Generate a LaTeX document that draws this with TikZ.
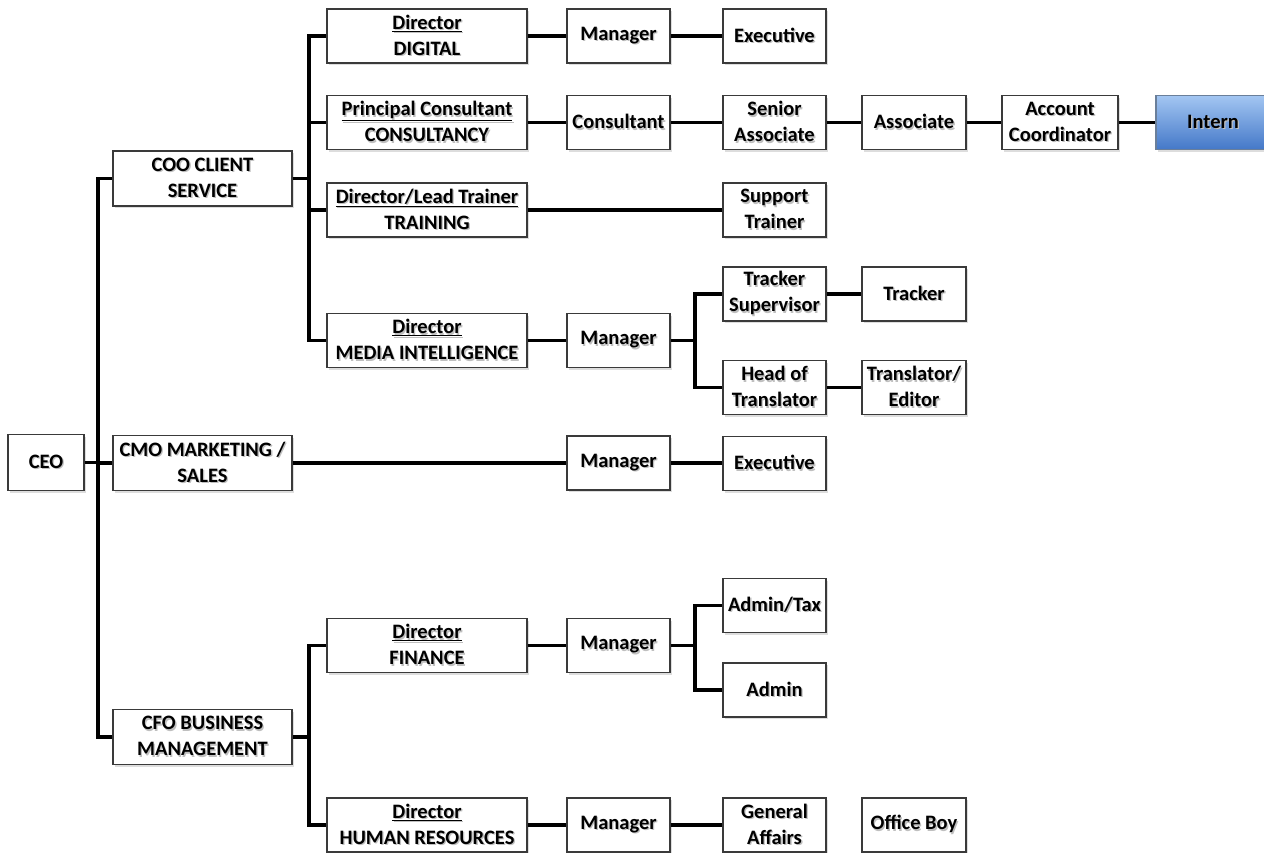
\documentclass[tikz,border=0pt]{standalone}
\usepackage{fontspec}
\setmainfont{Carlito}
\usetikzlibrary{shadows}
\definecolor{boxline}{HTML}{3A3A3A}
\definecolor{interntop}{HTML}{A3C6F2}
\definecolor{internbot}{HTML}{4478C8}
\definecolor{internline}{HTML}{6A7F9A}
\newcommand{\txs}[1]{\leavevmode\rlap{\hspace{1.3pt}\raisebox{-1.5pt}{\color{black!25}#1}}#1}
\tikzset{
  orgbox/.style={draw=boxline, line width=1.1pt, fill=white, inner sep=0pt,
    align=center, font=\bfseries\fontsize{20.5}{26}\selectfont,
    drop shadow={shadow xshift=1.5pt, shadow yshift=-2pt, fill=black!22, opacity=0.6}},
  link/.style={line width=3.4pt, black}
}
\begin{document}
\begin{tikzpicture}[x=1pt,y=-1pt]
\useasboundingbox (0,0) rectangle (1264,852);
\fill[white] (0,0) rectangle (1264,852);
% level 0/1
\node[orgbox, minimum width=76pt, minimum height=56pt] (ceo) at (46,462.5) {\txs{CEO}};
\node[orgbox, minimum width=179pt, minimum height=55pt] (coo) at (202.5,178.5) {\txs{COO CLIENT}\\\txs{SERVICE}};
\node[orgbox, minimum width=179pt, minimum height=55pt] (cmo) at (202.5,463) {\txs{CMO MARKETING /}\\\txs{SALES}};
\node[orgbox, minimum width=179pt, minimum height=55pt] (cfo) at (202.5,737) {\txs{CFO BUSINESS}\\\txs{MANAGEMENT}};
% directors
\node[orgbox, minimum width=200pt, minimum height=54pt] (dig) at (427,36) {\txs{\underline{Director}}\\\txs{DIGITAL}};
\node[orgbox, minimum width=200pt, minimum height=54pt] (pc) at (427,122.5) {\txs{\underline{Principal Consultant}}\\\txs{CONSULTANCY}};
\node[orgbox, minimum width=200pt, minimum height=54pt] (dlt) at (427,210) {\txs{\underline{Director/Lead Trainer}}\\\txs{TRAINING}};
\node[orgbox, minimum width=200pt, minimum height=54pt] (dmi) at (427,340.5) {\txs{\underline{Director}}\\\txs{MEDIA INTELLIGENCE}};
\node[orgbox, minimum width=200pt, minimum height=54pt] (dfin) at (427,645.5) {\txs{\underline{Director}}\\\txs{FINANCE}};
\node[orgbox, minimum width=200pt, minimum height=54pt] (dhr) at (427,825) {\txs{\underline{Director}}\\\txs{HUMAN RESOURCES}};
% managers column
\node[orgbox, minimum width=103pt, minimum height=54pt] (mgrdig) at (618.5,36) {\txs{Manager}};
\node[orgbox, minimum width=103pt, minimum height=54pt] (cons) at (618.5,122.5) {\txs{Consultant}};
\node[orgbox, minimum width=103pt, minimum height=54pt] (mgrmi) at (618.5,340.5) {\txs{Manager}};
\node[orgbox, minimum width=103pt, minimum height=54pt] (mgrcmo) at (618.5,463) {\txs{Manager}};
\node[orgbox, minimum width=103pt, minimum height=54pt] (mgrfin) at (618.5,645.5) {\txs{Manager}};
\node[orgbox, minimum width=103pt, minimum height=54pt] (mgrhr) at (618.5,825) {\txs{Manager}};
% third column
\node[orgbox, minimum width=103pt, minimum height=54pt] (exdig) at (774.5,36) {\txs{Executive}};
\node[orgbox, minimum width=103pt, minimum height=54pt] (sa) at (774.5,122.5) {\txs{Senior}\\\txs{Associate}};
\node[orgbox, minimum width=103pt, minimum height=54pt] (st) at (774.5,210) {\txs{Support}\\\txs{Trainer}};
\node[orgbox, minimum width=103pt, minimum height=54pt] (ts) at (774.5,294) {\txs{Tracker}\\\txs{Supervisor}};
\node[orgbox, minimum width=103pt, minimum height=54pt] (ht) at (774.5,387.5) {\txs{Head of}\\\txs{Translator}};
\node[orgbox, minimum width=103pt, minimum height=54pt] (excmo) at (774.5,463.5) {\txs{Executive}};
\node[orgbox, minimum width=103pt, minimum height=54pt] (admtax) at (774.5,605.5) {\txs{Admin/Tax}};
\node[orgbox, minimum width=103pt, minimum height=54pt] (adm) at (774.5,690) {\txs{Admin}};
\node[orgbox, minimum width=103pt, minimum height=54pt] (ga) at (774.5,825) {\txs{General}\\\txs{Affairs}};
% fourth column
\node[orgbox, minimum width=104pt, minimum height=54pt] (assoc) at (914,122.5) {\txs{Associate}};
\node[orgbox, minimum width=104pt, minimum height=54pt] (trk) at (914,294) {\txs{Tracker}};
\node[orgbox, minimum width=104pt, minimum height=54pt] (te) at (914,387.5) {\txs{Translator/}\\\txs{Editor}};
\node[orgbox, minimum width=104pt, minimum height=54pt] (ob) at (914,825) {\txs{Office Boy}};
% far right
\node[orgbox, minimum width=116pt, minimum height=54pt] (ac) at (1060,122.5) {\txs{Account}\\\txs{Coordinator}};
\node[orgbox, draw=internline, top color=interntop, bottom color=internbot, minimum width=114pt, minimum height=54pt] (intern) at (1213,122.5) {\txs{Intern}};
% bus coordinates
\coordinate (b0) at (98,462.5);
\coordinate (b1) at (309,178.5);
\coordinate (b2) at (695,340.5);
\coordinate (b3) at (309,737);
\coordinate (b4) at (695,645.5);
% connectors
\draw[link] (ceo.east) -- (b0);
\draw[link] (b0) |- (coo.west);
\draw[link] (b0) |- (cmo.west);
\draw[link] (b0) |- (cfo.west);
\draw[link] (coo.east) -- (b1);
\draw[link] (b1) |- (dig.west);
\draw[link] (b1) |- (pc.west);
\draw[link] (b1) |- (dlt.west);
\draw[link] (b1) |- (dmi.west);
\draw[link] (dig) -- (mgrdig);
\draw[link] (mgrdig) -- (exdig);
\draw[link] (pc) -- (cons);
\draw[link] (cons) -- (sa);
\draw[link] (sa) -- (assoc);
\draw[link] (assoc) -- (ac);
\draw[link] (ac) -- (intern);
\draw[link] (dlt) -- (st);
\draw[link] (dmi) -- (mgrmi);
\draw[link] (mgrmi.east) -- (b2);
\draw[link] (b2) |- (ts.west);
\draw[link] (b2) |- (ht.west);
\draw[link] (ts) -- (trk);
\draw[link] (ht) -- (te);
\draw[link] (cmo) -- (mgrcmo);
\draw[link] (mgrcmo.east) -- (mgrcmo.east -| excmo.west);
\draw[link] (cfo.east) -- (b3);
\draw[link] (b3) |- (dfin.west);
\draw[link] (b3) |- (dhr.west);
\draw[link] (dfin) -- (mgrfin);
\draw[link] (mgrfin.east) -- (b4);
\draw[link] (b4) |- (admtax.west);
\draw[link] (b4) |- (adm.west);
\draw[link] (dhr) -- (mgrhr);
\draw[link] (mgrhr) -- (ga);
\end{tikzpicture}
\end{document}
